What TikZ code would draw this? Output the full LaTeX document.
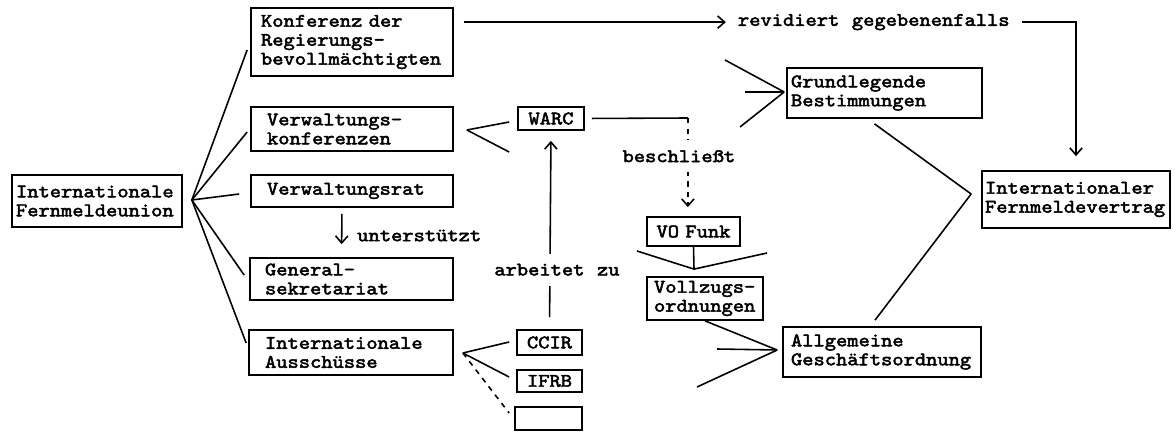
\documentclass[tikz,border=0pt]{standalone}
\usepackage{fontspec}
\setmonofont{lmmono10-regular.otf}[FakeStretch=1.12, FakeBold=2.5, WordSpace=1.12]
\usepackage{tikz}
\usetikzlibrary{arrows.meta}
\tikzstyle{einheit}=[draw, line width=1pt, align=left, inner ysep=0pt]
\tikzstyle{klein} = [einheit, align=center, inner xsep=0.08cm]
\tikzstyle{linie} = [draw, line width=0.9pt]
\tikzstyle{pfeil} = [linie, -{Straight Barb[length=4pt,width=7pt]}]
\tikzstyle{beschriftung}=[inner sep=1pt]

\begin{document}
\begin{tikzpicture}[x=0.02cm, y=-0.02cm, font=\ttfamily\fontsize{10.9}{10.8}\selectfont]
  \useasboundingbox (0,0) rectangle (1176,432);

  % Organe der Union
  \path (97,201) node (ifu) [einheit, text width=3.24cm, inner xsep=0.08cm, minimum height=1.04cm] {Internationale\\Fernmeldeunion};
  \path (352,42) node (konf) [einheit, text width=3.64cm, inner xsep=0.2cm, minimum height=1.36cm] {Konferenz der\\Regierungs-\\bevollmächtigten};
  \path (352,129) node (vkonf) [einheit, text width=3.40cm, inner xsep=0.32cm, minimum height=0.88cm] {Verwaltungs-\\konferenzen};
  \path (352,191) node (vrat) [einheit, text width=3.40cm, inner xsep=0.32cm, minimum height=0.64cm] {Verwaltungsrat};
  \path (351.5,279) node (gsek) [einheit, text width=3.46cm, inner xsep=0.30cm, minimum height=0.84cm] {General-\\sekretariat};
  \path (351,352.5) node (ausch) [einheit, text width=3.44cm, inner xsep=0.32cm, minimum height=0.90cm] {Internationale\\Ausschüsse};

  \path (551,118.5) node (warc) [klein, text width=1.16cm, minimum height=0.46cm] {WARC};
  \path (549.5,342.5) node (ccir) [klein, text width=1.14cm, minimum height=0.50cm] {CCIR};
  \path (549.5,381) node (ifrb) [klein, text width=1.14cm, minimum height=0.44cm] {IFRB};
  \path (548.5,418.5) node (leer) [klein, text width=1.18cm, minimum height=0.46cm] {};

  % Vertragswerk
  \path (693.5,231.5) node (vofunk) [klein, text width=1.66cm, inner xsep=0.1cm, minimum height=0.58cm] {VO Funk};
  \path (705,298.5) node (vollz) [einheit, text width=2.04cm, inner xsep=0.14cm, minimum height=0.86cm] {Vollzugs-\\ordnungen};
  \path (884.5,93) node (grund) [einheit, text width=3.74cm, inner xsep=0.08cm, minimum height=1.0cm] {Grundlegende\\Bestimmungen};
  \path (882,352) node (allg) [einheit, text width=3.64cm, inner xsep=0.16cm, minimum height=1.0cm] {Allgemeine\\Geschäftsordnung};
  \path (1076,199.5) node (fmv) [einheit, text width=3.64cm, inner xsep=0.06cm, minimum height=1.14cm] {Internationaler\\Fernmeldevertrag};

  % Faecher
  \path (ifu.east)+(9,-1) coordinate (ifu-spitze);
  \path [linie] (ifu-spitze) -- ([shift={(-3,8)}]konf.west);
  \path [linie] (ifu-spitze) -- ([shift={(-3,3)}]vkonf.west);
  \path [linie] (ifu-spitze) -- ([shift={(-11,3)}]vrat.west);
  \path [linie] (ifu-spitze) -- ([shift={(-5,-4)}]gsek.west);
  \path [linie] (ifu-spitze) -- ([shift={(-2,-9.5)}]ausch.west);

  \path (vkonf.east)+(13,1) coordinate (vk-spitze);
  \path (warc.west)+(-8,33.5) coordinate (vk-frei);
  \path [linie] (vk-spitze) -- ([shift={(-8,3.5)}]warc.west);
  \path [linie] (vk-spitze) -- (vk-frei);

  \path (ausch.east)+(9,0.5) coordinate (ia-spitze);
  \path [linie] (ia-spitze) -- ([shift={(-7,-0.5)}]ccir.west);
  \path [linie] (ia-spitze) -- ([shift={(-7,-4)}]ifrb.west);
  \path [linie, dashed] (ia-spitze) -- ([shift={(-5,-5.5)}]leer.west);

  \path (vollz.north)+(-11,-7) coordinate (vz-spitze);
  \coordinate (vz-links) at (637,251);
  \coordinate (vz-rechts) at (767,253);
  \path [linie] (vofunk.south) -- (vz-spitze);
  \path [linie] (vz-links) -- (vz-spitze) -- (vz-rechts);

  \path (grund.west)+(-2,-1) coordinate (gb-spitze);
  \coordinate (gb-a) at (725,60);
  \coordinate (gb-b) at (745,92);
  \coordinate (gb-c) at (740,127);
  \path [linie] (gb-a) -- (gb-spitze);
  \path [linie] (gb-b) -- (gb-spitze);
  \path [linie] (gb-c) -- (gb-spitze);

  \path (allg.west)+(-5,-2) coordinate (ag-spitze);
  \coordinate (ag-b) at (717,349);
  \coordinate (ag-c) at (697,387);
  \path [linie] (vollz.south) -- (ag-spitze);
  \path [linie] (ag-b) -- (ag-spitze);
  \path [linie] (ag-c) -- (ag-spitze);

  \path (fmv.west)+(-10,-5.5) coordinate (fv-spitze);
  \path [linie] ([shift={(-10,5)}]grund.south) -- (fv-spitze);
  \path [linie] ([shift={(-7,-6)}]allg.north) -- (fv-spitze);

  % Beziehungen
  \path [pfeil, shorten <=0.12cm, shorten >=0.26cm] ([xshift=-0.2cm]vrat.south) -- node [beschriftung, right, xshift=0.26cm, yshift=-0.06cm] {unterstützt} ([xshift=-0.2cm]gsek.north);

  \path (konf.north east)+(282,15) node (revid) [beschriftung, anchor=west] {revidiert gegebenenfalls};
  \path [pfeil, shorten >=0.2cm] ([shift={(10,15)}]konf.north east) -- (revid.west);
  \path [pfeil, shorten <=0.2cm, shorten >=0.28cm] (revid.east) -| (fmv.north);

  \path (warc.east)+(103,-0.5) coordinate (beschl-ecke);
  \path [linie, shorten <=0.14cm] (warc.east) -- (beschl-ecke);
  \path [pfeil, dashed, shorten >=0.18cm] (beschl-ecke) -- node [beschriftung, fill=white, inner ysep=0.2cm, pos=0.39, xshift=-0.18cm] {beschließt} (beschl-ecke |- vofunk.north);

  \path [pfeil, shorten <=0.24cm, shorten >=0.2cm] (ccir.north) -- node [beschriftung, fill=white, inner ysep=0.2cm, pos=0.3, xshift=0.14cm] {arbeitet zu} (warc.south);
\end{tikzpicture}
\end{document}
